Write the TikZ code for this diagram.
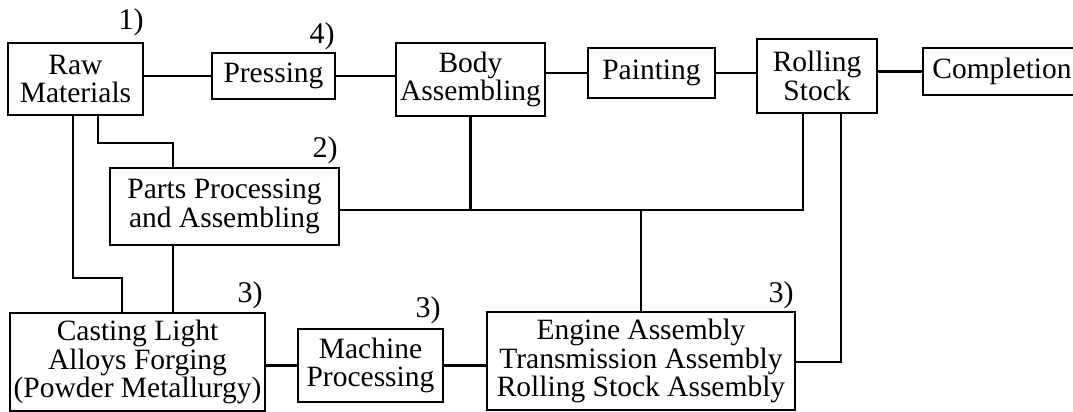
\documentclass[tikz,border=0pt]{standalone}
\usepackage{fontspec}
\setmainfont{Liberation Serif}
\begin{document}
\begin{tikzpicture}[x=1pt,y=-1pt,
  box/.style={draw,line width=2.6pt,rectangle,inner sep=0pt,align=center,
    font=\fontsize{29.5}{28.5}\selectfont},
  link/.style={line width=2.3pt},
  num/.style={inner sep=0pt,font=\fontsize{30}{30}\selectfont}]
\useasboundingbox[fill=white] (0,0) rectangle (1073,412);
% boxes
\node[box,minimum width=135pt,minimum height=72pt] (raw) at (75.5,79) {Raw\\Materials};
\node[box,minimum width=123pt,minimum height=46pt] (press) at (273.5,76) {Pressing};
\node[box,minimum width=149pt,minimum height=73pt] (body) at (470.5,79.5) {Body\\Assembling};
\node[box,minimum width=127pt,minimum height=50pt] (paint) at (651.5,73) {Painting};
\node[box,minimum width=120pt,minimum height=74pt] (roll) at (817,76) {Rolling\\Stock};
\node[box,minimum width=158pt,minimum height=47pt] (compl) at (1002,71.5) {Completion};
\node[box,minimum width=229pt,minimum height=77pt] (parts) at (224.5,206.5) {Parts Processing\\and Assembling};
\node[box,minimum width=255pt,minimum height=98pt] (cast) at (137.5,362) {Casting Light\\Alloys Forging\\(Powder Metallurgy)};
\node[box,minimum width=145pt,minimum height=73pt] (mach) at (370.5,365.5) {Machine\\Processing};
\node[box,minimum width=308pt,minimum height=98pt] (eng) at (641,361) {Engine Assembly\\Transmission Assembly\\Rolling Stock Assembly};
% labels
\node[num] (l1) at (131,22) {1)};
\node[num] (l4) at (322,36) {4)};
\node[num] (l2) at (325,150) {2)};
\node[num] (l3a) at (250,295) {3)};
\node[num] (l3b) at (428,310) {3)};
\node[num] (l3c) at (781,295) {3)};
% bend points
\coordinate (b1) at (98,143);
\coordinate (b2) at (173,143);
\coordinate (b3) at (73,278);
\coordinate (b4) at (122,278);
\coordinate (j1) at (803,210);
\coordinate (j2) at (841,362);
% connectors
\draw[link] (raw.east |- press.west) -- (press.west);
\draw[link] (press.east) -- (body.west |- press.east);
\draw[link] (body.east |- paint.east) -- (paint.west);
\draw[link] (paint.east) -- (roll.west |- paint.east);
\draw[link] (roll.east |- compl.west) -- (compl.west);
\draw[link] (raw.south -| b1) -- (b1) -- (b2) -- (parts.north -| b2);
\draw[link] (raw.south -| b3) -- (b3) -- (b4) -- (cast.north -| b4);
\draw[link] (parts.south -| b2) -- (cast.north -| b2);
\draw[link] (parts.east |- j1) -- (j1) -- (roll.south -| j1);
\draw[link] (body.south) -- (body.south |- j1);
\draw[link] (eng.north |- j1) -- (eng.north);
\draw[link] (roll.south -| j2) -- (j2) -- (eng.east |- j2);
\draw[link] (cast.east |- mach.west) -- (mach.west);
\draw[link] (mach.east) -- (eng.west |- mach.east);
\end{tikzpicture}
\end{document}
